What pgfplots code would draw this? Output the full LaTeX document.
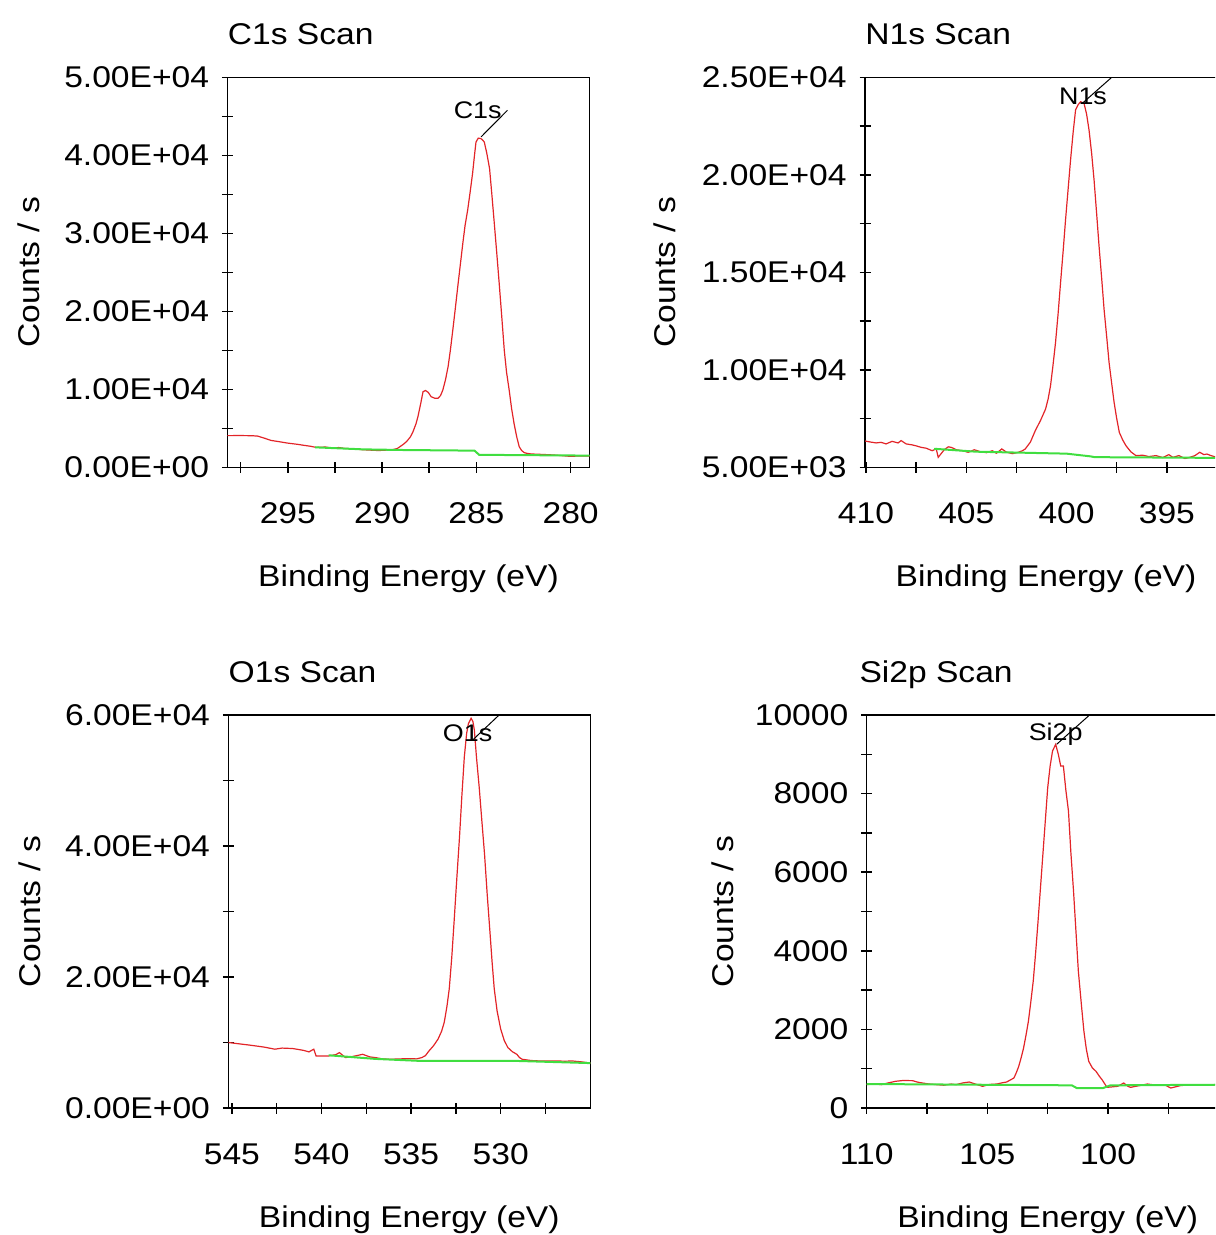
\documentclass[border=0pt]{standalone}
\usepackage{fontspec}
\setmainfont{Liberation Sans}[FakeStretch=1.12]
\usepackage{pgfplots}
\pgfplotsset{compat=1.18}

\definecolor{specred}{RGB}{226,36,40}
\definecolor{bggreen}{RGB}{64,222,64}

\pgfplotsset{
  xps/.style={
    scale only axis, width=181pt, height=195pt,
    anchor=north west,
    x dir=reverse,
    scaled ticks=false,
    axis line style={line width=0.65pt},
    tick style={black, line width=0.75pt},
    tick align=center,
    major tick length=5.5pt, minor tick length=5.5pt,
    tick pos=left,
    tick label style={font=\fontsize{15}{18}\selectfont},
    yticklabel style={anchor=east, inner sep=0pt, xshift=-6.25pt},
    xticklabel style={anchor=base, inner sep=0pt, yshift=-25.5pt},
    label style={font=\fontsize{15}{18}\selectfont},
    xlabel style={at={(axis description cs:0.5,0)}, anchor=base, inner sep=0pt, yshift=-59.5pt},
    title style={font=\fontsize{15}{18}\selectfont, at={(axis description cs:0,1)}, anchor=base west, inner sep=0pt, yshift=10.5pt},
    xlabel={Binding Energy (eV)}, ylabel={Counts / s},
  },
}
\tikzset{peaklabel/.style={font=\fontsize{12}{14}\selectfont, anchor=base, inner sep=0pt}}

\begin{document}
\begin{tikzpicture}
\useasboundingbox (0,0) rectangle (607.5pt,-617.5pt);
\clip (0,0) rectangle (607.5pt,-617.5pt);

% C1s
\begin{axis}[xps, at={(113.75pt,-38.65pt)},
  xmin=279, xmax=298.2, ymin=0, ymax=50000,
  xtick={280,285,290,295}, xticklabels={280,285,290,295},
  minor xtick={282.5,287.5,292.5,297.5},
  ytick={0,10000,20000,30000,40000,50000},
  yticklabels={0.00E+00,1.00E+04,2.00E+04,3.00E+04,4.00E+04,5.00E+04},
  minor ytick={5000,15000,25000,35000,45000},
  title={C1s Scan},
  ylabel style={at={(axis description cs:-0.548,0.5)}, anchor=center}]
\addplot[specred, line width=0.6pt] table {
298.2 4060
297.5 4070
296.9 4050
296.6 4000
296.2 3700
295.9 3450
295.5 3300
295.0 3100
294.5 2950
294.1 2800
293.8 2700
293.5 2550
293.0 2600
292.7 2480
292.3 2530
292.0 2430
291.5 2350
291.0 2250
290.6 2200
290.2 2150
289.8 2200
289.5 2230
289.2 2400
288.9 2900
288.7 3300
288.5 3900
288.36 4570
288.2 5600
288.1 6490
287.95 8200
287.83 9690
287.7 9850
287.55 9600
287.4 9050
287.2 8850
287.04 8840
286.9 9200
286.78 9900
286.64 11200
286.5 12900
286.38 15000
286.25 17600
286.12 20300
285.99 23100
285.85 26000
285.72 28700
285.6 31000
285.46 33000
285.33 35300
285.2 37700
285.1 40000
285.02 41700
284.9 42200
284.76 42150
284.65 41900
284.58 41700
284.45 40300
284.3 38300
284.18 35000
284.05 31300
283.92 27500
283.79 23600
283.65 19200
283.52 15000
283.4 12200
283.26 9900
283.13 7500
283.0 5600
282.86 3900
282.73 2650
282.6 2150
282.46 1880
282.3 1780
282.1 1710
281.5 1650
280.9 1580
280.5 1500
280.0 1400
279.6 1450
279.0 1450
};
\addplot[bggreen, line width=1pt] table {
293.55 2560
291.0 2300
289.0 2220
285.1 2135
284.85 1600
279.0 1500
};
\draw[black, line width=0.5pt] (axis cs:284.75,42360) -- (axis cs:283.35,45774);
\node[peaklabel] at (axis cs:284.93,44700) {C1s};
\end{axis}

% N1s
\begin{axis}[xps, at={(432.5pt,-38.65pt)},
  xmin=392, xmax=410.05, ymin=5000, ymax=25000,
  xtick={395,400,405,410}, xticklabels={395,400,405,410},
  minor xtick={392.5,397.5,402.5,407.5},
  ytick={5000,10000,15000,20000,25000},
  yticklabels={5.00E+03,1.00E+04,1.50E+04,2.00E+04,2.50E+04},
  minor ytick={7500,12500,17500,22500},
  title={N1s Scan},
  ylabel style={at={(axis description cs:-0.552,0.5)}, anchor=center}]
\addplot[specred, line width=0.6pt] table {
410.1 6360
409.8 6300
409.5 6250
409.25 6280
409.0 6200
408.7 6330
408.4 6250
408.25 6370
408.0 6200
407.7 6150
407.5 6100
407.24 6020
407.0 5980
406.7 5850
406.5 5950
406.4 5510
406.1 5900
405.9 6050
405.74 6020
405.5 5900
405.2 5850
404.9 5770
404.6 5900
404.3 5800
404.0 5750
403.7 5850
403.5 5720
403.23 5940
403.0 5780
402.7 5700
402.4 5770
402.2 5850
402.06 5940
401.8 6300
401.56 6880
401.3 7400
401.05 7980
400.92 8500
400.8 9180
400.68 10200
400.55 11400
400.42 12900
400.3 14460
400.17 16100
400.05 17700
399.92 19300
399.8 20770
399.67 22200
399.55 23330
399.42 23600
399.3 23750
399.2 23700
399.13 23670
399.0 23100
398.88 22300
398.75 21100
398.63 19750
398.5 18000
398.38 16340
398.25 14700
398.13 13100
398.0 11700
397.88 10370
397.75 9300
397.63 8330
397.5 7500
397.37 6790
397.2 6400
397.04 6110
396.8 5800
396.54 5600
396.2 5620
395.9 5550
395.54 5600
395.2 5500
394.9 5650
394.7 5510
394.4 5600
394.1 5450
393.86 5510
393.6 5600
393.36 5770
393.15 5650
393.0 5680
392.8 5600
392.5 5510
392.0 5550
};
\addplot[bggreen, line width=1pt] table {
406.6 5950
404.5 5800
400.0 5700
398.8 5560
398.6 5520
392.0 5480
};
\draw[black, line width=0.5pt] (axis cs:399.21,23670) -- (axis cs:397.71,25034);
\node[peaklabel] at (axis cs:399.18,23600) {N1s};
\end{axis}

% O1s
\begin{axis}[xps, at={(114.15pt,-357.5pt)}, height=196.5pt,
  xmin=525, xmax=545.2, ymin=0, ymax=60000,
  xtick={530,535,540,545}, xticklabels={530,535,540,545},
  minor xtick={527.5,532.5,537.5,542.5},
  ytick={0,20000,40000,60000},
  yticklabels={0.00E+00,2.00E+04,4.00E+04,6.00E+04},
  minor ytick={10000,30000,50000},
  title={O1s Scan},
  ylabel style={at={(axis description cs:-0.548,0.5)}, anchor=center}]
\addplot[specred, line width=0.6pt] table {
545.2 10000
544.6 9800
544.0 9600
543.7 9490
543.2 9300
542.6 8980
542.2 9150
541.6 9080
541.0 8800
540.7 8570
540.43 8980
540.3 7950
539.6 7950
539.2 8150
539.0 8460
538.66 7700
538.2 7900
537.7 8200
537.3 7800
537.0 7700
536.6 7500
536.2 7440
535.6 7500
535.1 7540
534.7 7500
534.4 7700
534.2 8000
534.0 8720
533.75 9500
533.5 10500
533.3 11700
533.15 13080
533.0 15500
532.87 18200
532.73 23000
532.6 28470
532.45 35000
532.3 41300
532.17 47500
532.03 53600
531.9 57200
531.8 58700
531.65 59500
531.55 59000
531.47 57700
531.35 53500
531.2 49000
531.05 43800
530.9 38700
530.75 32500
530.6 26900
530.48 22300
530.36 18200
530.2 14800
530.0 12050
529.8 10300
529.6 9230
529.35 8600
529.1 8200
528.95 7700
528.8 7440
528.3 7250
527.8 7180
527.3 7200
526.9 7180
526.4 7150
526.0 7180
525.5 7050
524.9 6820
};
\addplot[bggreen, line width=1pt] table {
539.6 8050
537.0 7500
534.4 7180
529.0 7180
524.9 6850
};
\draw[black, line width=0.5pt] (axis cs:531.57,56170) -- (axis cs:529.98,60280);
\node[peaklabel] at (axis cs:531.85,55900) {O1s};
\end{axis}

% Si2p
\begin{axis}[xps, at={(433.35pt,-357.5pt)}, height=196.5pt,
  xmin=95, xmax=110, ymin=0, ymax=10000,
  xtick={100,105,110}, xticklabels={100,105,110},
  minor xtick={97.5,102.5,107.5},
  ytick={0,2000,4000,6000,8000,10000},
  yticklabels={0,2000,4000,6000,8000,10000},
  minor ytick={1000,3000,5000,7000,9000},
  title={Si2p Scan},
  title style={at={(axis description cs:-0.021,1)}},
  ylabel style={at={(axis description cs:-0.397,0.5)}, anchor=center}]
\addplot[specred, line width=0.6pt] table {
110.0 594
109.7 620
109.4 594
109.1 640
108.8 680
108.5 700
108.1 696
107.9 660
107.7 637
107.4 610
107.1 594
106.8 580
106.5 610
106.3 594
106.0 640
105.75 662
105.5 610
105.2 552
104.9 600
104.6 611
104.4 640
104.2 662
103.9 764
103.8 900
103.7 1061
103.6 1280
103.5 1528
103.4 1850
103.3 2207
103.2 2700
103.1 3226
103.0 3950
102.9 4754
102.8 5600
102.7 6452
102.6 7300
102.5 8150
102.4 8700
102.3 9084
102.17 9254
102.06 9000
101.96 8700
101.85 8700
101.75 8100
101.64 7556
101.54 6500
101.43 5519
101.33 4500
101.23 3480
101.1 2600
101.0 1953
100.9 1500
100.8 1189
100.65 1020
100.5 934
100.35 800
100.25 722
100.1 580
100.04 526
99.8 540
99.6 552
99.35 637
99.2 560
99.07 526
98.7 570
98.37 611
98.0 580
97.67 594
97.4 509
97.0 570
96.56 594
96.0 590
95.45 594
95.0 594
};
\addplot[bggreen, line width=1pt] table {
110.0 611
101.5 577
101.3 509
100.2 509
99.9 577
95.0 594
};
\draw[black, line width=0.5pt] (axis cs:102.13,9254) -- (axis cs:100.81,9976);
\node[peaklabel] at (axis cs:102.17,9340) {Si2p};
\end{axis}
\end{tikzpicture}
\end{document}
